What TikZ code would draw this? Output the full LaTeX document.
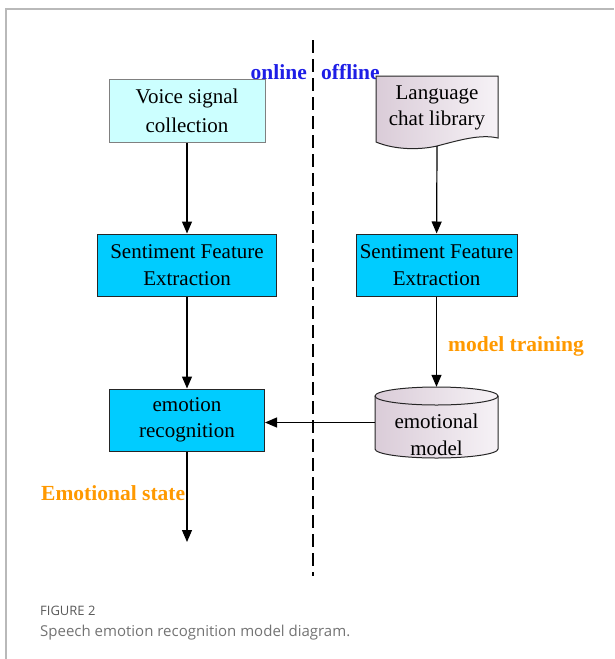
\documentclass[tikz,border=0pt]{standalone}
\usepackage{fontspec}
\setmainfont{Liberation Serif}
\newfontfamily\capfont{Open Sans}
\usetikzlibrary{arrows.meta}
\definecolor{boxcyan}{RGB}{0,204,255}
\definecolor{lightcyan}{RGB}{204,255,255}
\definecolor{pinkdark}{RGB}{218,204,216}
\definecolor{pinklight}{RGB}{246,242,246}
\definecolor{labelorange}{RGB}{255,153,0}
\definecolor{labelblue}{RGB}{30,30,230}
\definecolor{framegray}{RGB}{185,185,185}
\definecolor{capgray}{RGB}{100,100,100}
\tikzset{
  procbox/.style={draw=black!85, line width=1pt, fill=boxcyan, minimum width=#1, minimum height=62pt, inner sep=0pt, align=center, font=\fontsize{21}{26.5}\selectfont},
  procbox/.default=156pt,
  flow/.style={line width=1.2pt, -{Triangle[length=12pt,width=10pt]}},
  plaintext/.style={align=center, inner sep=0pt, font=\fontsize{21}{26.5}\selectfont},
  boldlabel/.style={inner sep=0pt, font=\fontsize{21.5}{24}\selectfont\bfseries}
}
\begin{document}
\begin{tikzpicture}[x=1pt,y=-1pt]
\useasboundingbox (0,0) rectangle (614,659);
% frame
\draw[framegray, line width=1.5pt] (6,659) -- (6,9) -- (614,9);
% dashed divider
\coordinate (dtop) at (313,40);
\coordinate (dbot) at (313,576);
\draw[line width=1.3pt, dash pattern=on 13pt off 6pt] (dtop) -- (dbot);
% online / offline
\node[boldlabel, text=labelblue, anchor=east] (online) at (307,72) {online};
\node[boldlabel, text=labelblue, anchor=west] (offline) at (321,72) {offline};
% left column
\node[procbox=156pt, fill=lightcyan, draw=gray, minimum height=63pt, font=\fontsize{21}{29}\selectfont] (voice) at (187,110.5) {Voice signal\\collection};
\node[procbox=179pt] (sfeL) at (187,265) {Sentiment Feature\\Extraction};
\node[procbox=155pt] (emo) at (187,420) {emotion\\recognition};
\coordinate (out) at (187,542);
% right column: document shape
\path[draw=black!85, line width=1pt, left color=pinkdark, right color=pinklight]
  (376,76) -- (498,76) -- (498,138)
  .. controls (480,134) and (460,140) .. (437,146)
  .. controls (420,150) and (395,150) .. (376,142) -- cycle;
\node[minimum width=122pt, minimum height=70pt, inner sep=0pt] (lib) at (437,111) {};
\node[plaintext] (libtext) at (437,108) {Language\\chat library};
\node[procbox=161pt] (sfeR) at (436.5,265) {Sentiment Feature\\Extraction};
% cylinder
\path[draw=black!85, line width=1pt, left color=pinkdark, right color=pinklight]
  (375,396) -- (375,449) arc[start angle=180, end angle=360, x radius=61.5pt, y radius=9pt]
  -- (498,396) arc[start angle=0, end angle=180, x radius=61.5pt, y radius=9pt] -- cycle;
\draw[line width=1pt, black!85] (375,396) arc[start angle=180, end angle=360, x radius=61.5pt, y radius=9pt];
\node[minimum width=123pt, minimum height=71pt, inner sep=0pt] (model) at (436.5,422.5) {};
\node[plaintext] (modeltext) at (436.5,435) {emotional\\model};
% connectors
\draw[flow] (voice) -- (sfeL);
\draw[flow] (sfeL) -- (emo);
\draw[flow] (emo) -- (out);
\draw[flow] (lib.south |- 0,146) -- (sfeR);
\draw[flow] (sfeR) -- (model.north);
\draw[flow] (model.west) -- (emo.east |- model.west);
% labels
\node[boldlabel, text=labelorange, anchor=west] (training) at (448,346) {model training};
\node[boldlabel, text=labelorange, anchor=west] (state) at (41,493) {Emotional state};
% caption
\node[anchor=west, inner sep=0pt, text=black!65, font=\capfont\fontsize{13}{15}\selectfont] (fig) at (40,611) {FIGURE 2};
\node[anchor=west, inner sep=0pt, text=black!55, font=\capfont\fontsize{15}{18}\selectfont] (cap) at (40,633) {Speech emotion recognition model diagram.};
\end{tikzpicture}
\end{document}
